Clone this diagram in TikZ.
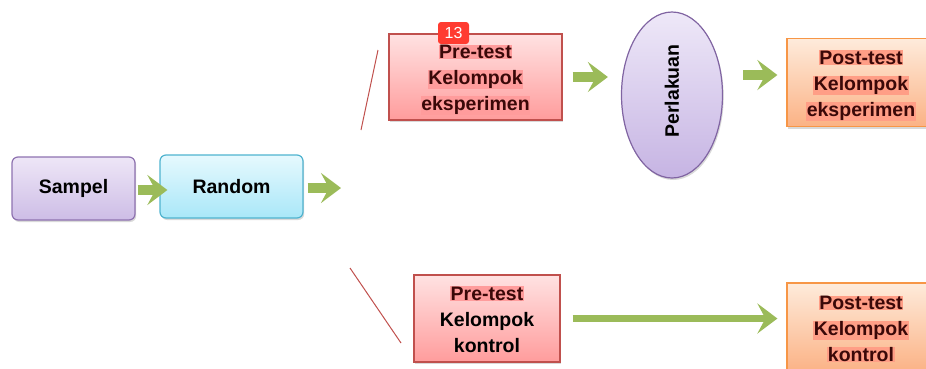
\documentclass[tikz,border=0pt]{standalone}
\usepackage{fontspec}
\setmainfont{Liberation Sans}
\usetikzlibrary{arrows.meta,shapes.geometric,shadows}
\definecolor{sampelB}{HTML}{8E72B0}
\definecolor{sampelT}{HTML}{EEE6F7}
\definecolor{sampelD}{HTML}{CDBDE6}
\definecolor{randB}{HTML}{4FB3CF}
\definecolor{randT}{HTML}{E6F9FE}
\definecolor{randD}{HTML}{A9E7F8}
\definecolor{preB}{HTML}{C0504D}
\definecolor{preT}{HTML}{FFE2E2}
\definecolor{preD}{HTML}{FF9C9C}
\definecolor{perB}{HTML}{8064A2}
\definecolor{perT}{HTML}{EEE8F8}
\definecolor{perD}{HTML}{C6B4E3}
\definecolor{postB}{HTML}{F79646}
\definecolor{postT}{HTML}{FEEBDB}
\definecolor{postD}{HTML}{FBB285}
\definecolor{agreen}{HTML}{9BBB59}
\definecolor{hlred}{HTML}{FF9C9C}
\definecolor{hlorg}{HTML}{FF9E86}
\definecolor{darktext}{HTML}{3A0808}
\definecolor{badge}{HTML}{FF3B30}
\newcommand\hlr[1]{{\setlength{\fboxsep}{0.5pt}\colorbox{hlred}{\color{darktext}#1}}}
\newcommand\hlo[1]{{\setlength{\fboxsep}{0.5pt}\colorbox{hlorg}{\color{darktext}#1}}}
\tikzset{
  txt/.style={font=\fontsize{19.5}{26}\selectfont\bfseries, align=center, inner sep=0pt},
  shad/.style={drop shadow={opacity=0.3, shadow xshift=1.2pt, shadow yshift=-2pt}},
  sampelbox/.style={txt, shad, draw=sampelB, line width=1.2pt, rounded corners=6pt, top color=sampelT, bottom color=sampelD, minimum width=123pt, minimum height=63pt},
  randbox/.style={txt, shad, draw=randB, line width=1.2pt, rounded corners=6pt, top color=randT, bottom color=randD, minimum width=143pt, minimum height=63pt},
  prebox/.style={shad, draw=preB, line width=1.2pt, top color=preT, bottom color=preD, minimum height=86pt},
  postbox/.style={shad, draw=postB, line width=1.2pt, top color=postT, bottom color=postD, minimum width=148pt, minimum height=88pt},
  perbox/.style={shad, ellipse, draw=perB, line width=1.2pt, top color=perT, bottom color=perD, minimum width=101pt, minimum height=166pt},
  garrow/.style={draw=agreen, line width=10pt, -{Stealth[length=20pt, width=30pt, inset=8pt]}},
  glong/.style={draw=agreen, line width=7pt, -{Stealth[length=20pt, width=30pt, inset=8pt]}},
  redline/.style={draw=preB, line width=1pt},
}
\begin{document}
\begin{tikzpicture}[x=1pt,y=-1pt]
\useasboundingbox (0,0) rectangle (926,368);
\clip (0,0) rectangle (926,368);
\node[sampelbox] (s) at (73.5,188.5) {Sampel};
\node[randbox] (r) at (231.5,186.5) {Random};
\coordinate (rend) at (341,188);
\node[prebox, minimum width=173pt] (pe) at (475.5,77) {};
\node[txt] (pet) at ([yshift=-3pt]pe.center) {\hlr{Pre-test}\\\hlr{Kelompok}\\\hlr{eksperimen}};
\node[perbox] (pl) at (672,95) {};
\node[txt, rotate=90] (plt) at ([yshift=4pt]pl.center) {Perlakuan};
\node[postbox] (po) at (861,82.5) {};
\node[txt] (pot) at ([yshift=-3pt]po.center) {\hlo{Post-test}\\\hlo{Kelompok}\\\hlo{eksperimen}};
\node[prebox, minimum width=146pt, minimum height=87pt] (pk) at (487,318.5) {};
\node[txt] (pkt) at ([yshift=-1pt]pk.center) {\hlr{Pre-test}\\Kelompok\\kontrol};
\node[postbox, minimum height=89pt] (pok) at (861,327.5) {};
\node[txt] (pokt) at ([yshift=-1.5pt]pok.center) {\hlo{Post-test}\\\hlo{Kelompok}\\\hlo{kontrol}};
\node[fill=badge, rounded corners=3pt, minimum width=31pt, minimum height=22pt, inner sep=0pt, text=white, font=\fontsize{16}{16}\selectfont] (b) at (453.5,33) {13};
% red branching lines
\coordinate (l1a) at (378,50);
\coordinate (l1b) at (361,130);
\coordinate (l2a) at (350,268);
\coordinate (l2b) at (401,343);
\draw[redline] (l1a) -- (l1b);
\draw[redline] (l2a) -- (l2b);
% green arrows
\draw[garrow, shorten <=2pt, shorten >=-8pt] ([yshift=-1.5pt]s.east) -- ([yshift=-1.5pt]s.east -| r.west);
\draw[garrow, shorten <=4pt] (r.east |- rend) -- (rend);
\draw[garrow, shorten <=10pt, shorten >=13pt] (pe.east) -- (pe.east -| pl.west);
\draw[garrow, shorten <=20pt, shorten >=9pt] ([yshift=7.5pt]pl.east |- po.west) -- ([yshift=7.5pt]po.west);
\draw[glong, shorten <=12pt, shorten >=9pt] (pk.east) -- (pk.east -| pok.west);
\end{tikzpicture}
\end{document}
